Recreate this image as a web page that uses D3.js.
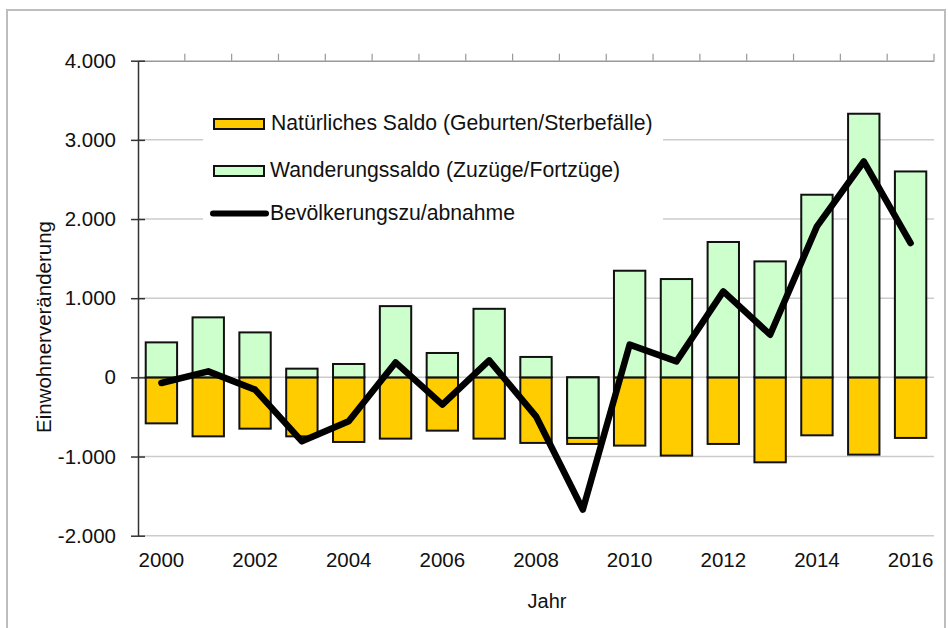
<!DOCTYPE html>
<html><head><meta charset="utf-8">
<script src="https://cdn.jsdelivr.net/npm/d3@7/dist/d3.min.js"></script>
<style>body{margin:0;background:#fff}svg{display:block}text{font-family:"Liberation Sans",Arial,sans-serif;fill:#111}</style>
</head><body><svg id="c" width="948" height="628"></svg>
<script>
const years = [2000,2001,2002,2003,2004,2005,2006,2007,2008,2009,2010,2011,2012,2013,2014,2015,2016];
const natural = [-581,-745,-648,-745,-816,-774,-673,-774,-828,-841,-862,-988,-841,-1073,-732,-976,-765];
const migration = [442,758,568,110,169,900,308,866,258,-765,1347,1242,1710,1465,2307,3330,2601];
const total = [-71,76,-155,-808,-555,189,-345,215,-492,-1670,413,202,1086,539,1907,2727,1697];
const yTicks = [-2000,-1000,0,1000,2000,3000,4000];
const xLabels = [2000,2002,2004,2006,2008,2010,2012,2014,2016];
const legendLabels = ["Natürliches Saldo (Geburten/Sterbefälle)","Wanderungssaldo (Zuzüge/Fortzüge)","Bevölkerungszu/abnahme"];
const colNat = "#FFCC00", colMig = "#CCFFCC";

const svg = d3.select("#c");
const L = 138, R = 934, T = 60.7, B = 535.7;
svg.append("rect").attr("x",7).attr("y",10).attr("width",938).attr("height",640).attr("fill","none").attr("stroke","#bdbdbd").attr("stroke-width",2);

const x = d3.scaleBand().domain(years).range([L,R]).paddingInner(0.33).paddingOuter(0.165);
const y = d3.scaleLinear().domain([-2000,4000]).range([B,T]);
const fmt = v => d3.format(",")(v).replace(/,/g,".").replace("\u2212","-");

// gridlines
svg.append("g").selectAll("line").data(yTicks.filter(v=>v!==4000)).join("line")
  .attr("x1",L).attr("x2",R).attr("y1",d=>y(d)).attr("y2",d=>y(d))
  .attr("stroke","#cccccc").attr("stroke-width",1.5);

// legend background
svg.append("rect").attr("x",203).attr("y",100).attr("width",460).attr("height",135).attr("fill","#fff");

// top axis line with ticks
const topAxis = svg.append("g").attr("transform",`translate(0,${y(4000)})`)
  .call(d3.axisTop(x).tickValues([]).tickSizeOuter(0));
topAxis.select(".domain").attr("stroke","#999").attr("stroke-width",1.5);
const bounds = years.map(d=>x(d)-x.step()*0.165).concat([R]);
svg.append("g").selectAll("line").data(bounds.slice(1)).join("line")
  .attr("x1",d=>d).attr("x2",d=>d).attr("y1",y(4000)).attr("y2",y(4000)-7)
  .attr("stroke","#999").attr("stroke-width",1.2);

// y axis
const ya = svg.append("g").attr("transform",`translate(${L},0)`)
  .call(d3.axisLeft(y).tickValues(yTicks).tickSize(7).tickFormat(fmt).tickSizeOuter(0));
ya.select(".domain").attr("stroke","#333").attr("stroke-width",1.5);
ya.selectAll(".tick line").attr("x2",7).attr("x1",-7).attr("stroke","#333").attr("stroke-width",1.5);
ya.selectAll(".tick text").attr("x",-22).attr("font-size","20.5px").attr("font-family","Liberation Sans, Arial, sans-serif").attr("fill","#111");

// bars: natural first, migration overlapping on top
const bw = x.bandwidth();
svg.append("g").selectAll("rect").data(years).join("rect")
  .attr("x",d=>x(d)).attr("width",bw)
  .attr("y",(d,i)=>Math.min(y(0),y(natural[i]))).attr("height",(d,i)=>Math.abs(y(natural[i])-y(0)))
  .attr("fill",colNat).attr("stroke","#111").attr("stroke-width",2);
svg.append("g").selectAll("rect").data(years).join("rect")
  .attr("x",d=>x(d)).attr("width",bw)
  .attr("y",(d,i)=>Math.min(y(0),y(migration[i]))).attr("height",(d,i)=>Math.abs(y(migration[i])-y(0)))
  .attr("fill",colMig).attr("stroke","#111").attr("stroke-width",2);

// line
const line = d3.line().x((d,i)=>x(years[i])+bw/2).y(d=>y(d));
svg.append("path").datum(total).attr("d",line).attr("fill","none").attr("stroke","#000")
  .attr("stroke-width",6.5).attr("stroke-linejoin","round").attr("stroke-linecap","round");

// x labels
svg.append("g").selectAll("text").data(xLabels).join("text")
  .attr("x",d=>x(d)+bw/2).attr("y",567).attr("text-anchor","middle").attr("font-size","20.5px").text(d=>d);

// axis titles
svg.append("text").attr("x",547).attr("y",608).attr("text-anchor","middle").attr("font-size","20px").text("Jahr");
svg.append("text").attr("transform","translate(51,327) rotate(-90)").attr("text-anchor","middle").attr("font-size","20.5px").text("Einwohnerveränderung");

// legend
const lg = svg.append("g");
lg.append("rect").attr("x",214).attr("y",119).attr("width",50).attr("height",10).attr("fill",colNat).attr("stroke","#111").attr("stroke-width",2);
lg.append("rect").attr("x",214).attr("y",166).attr("width",50).attr("height",10).attr("fill",colMig).attr("stroke","#111").attr("stroke-width",2);
lg.append("line").attr("x1",213).attr("x2",266).attr("y1",213.5).attr("y2",213.5).attr("stroke","#000").attr("stroke-width",6).attr("stroke-linecap","round");
lg.selectAll("text").data(legendLabels).join("text")
  .attr("x",(d,i)=>i===0?271:270).attr("y",(d,i)=>[130,177,220][i]).attr("font-size","21.2px").text(d=>d);
</script></body></html>
